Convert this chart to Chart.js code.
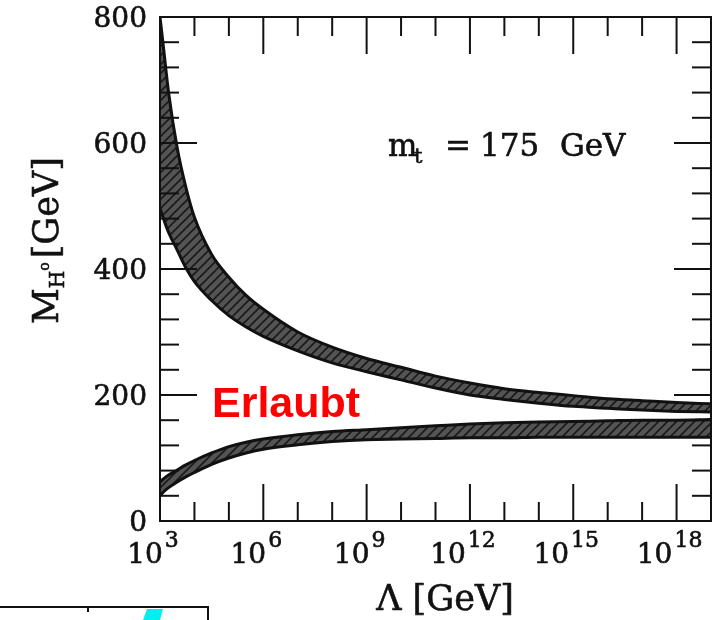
<!DOCTYPE html>
<html>
<head>
<meta charset="utf-8">
<script src="https://cdn.jsdelivr.net/npm/chart.js@4"></script>
<style>
  body { margin: 0; background: #fff; }
  canvas { display: block; }
</style>
</head>
<body>
<canvas id="grafico" width="725" height="620"></canvas>
<script>
// log10(Lambda / GeV) where the band edges were read
const lambdaExp = [3, 3.1, 3.25, 3.5, 3.75, 4, 4.5, 5, 5.5, 6, 7, 8, 9, 10, 11, 12, 13, 14, 15, 16, 17, 18, 19];

// upper band (triviality)
const obenHoch = [800, 752, 680, 592, 530, 482, 423, 387, 358, 336, 300, 276, 258, 244, 230, 219, 210, 204, 199, 194, 191, 188, 186];
const obenTief = [496, 480, 458, 430, 402, 380, 350, 326, 308, 293, 270, 251, 237, 224, 211, 200, 193, 187, 182, 179, 176, 174, 173];

// lower band (vacuum stability)
const untenHoch = [62, 67, 73, 81, 89, 96, 108, 118, 125, 130, 137, 142, 145, 148, 151, 154, 156, 157, 158, 159, 160, 160, 161];
const untenTief = [40, 46, 53, 62, 70, 77, 90, 100, 108, 114, 121, 126, 129, 130, 131, 132, 132, 133, 133, 133, 133, 133, 133];

const xTickExps = [3, 6, 9, 12, 15, 18];
const yTicks = [0, 200, 400, 600, 800];

const canvas = document.getElementById('grafico');
const ctx = canvas.getContext('2d');

function schraffur() {
  const c = document.createElement('canvas');
  c.width = 9; c.height = 9;
  const g = c.getContext('2d');
  g.fillStyle = '#545454';
  g.fillRect(0, 0, 9, 9);
  g.strokeStyle = '#1a1a1a';
  g.lineWidth = 1.6;
  g.beginPath();
  g.moveTo(-1, 10); g.lineTo(10, -1);
  g.moveTo(-1, 1); g.lineTo(1, -1);
  g.moveTo(8, 10); g.lineTo(10, 8);
  g.stroke();
  return ctx.createPattern(c, 'repeat');
}
const muster = schraffur();

function punkte(werte) {
  return lambdaExp.map((e, i) => ({ x: Math.pow(10, e), y: werte[i] }));
}

function linie(label, werte, fill) {
  return {
    label: label,
    data: punkte(werte),
    borderColor: '#111',
    borderWidth: 3,
    pointRadius: 0,
    cubicInterpolationMode: 'monotone',
    fill: fill,
    backgroundColor: muster
  };
}

const serif = 'DejaVu Serif';

// etwas kraeftigere Schrift wie im Original
function text(ctx, s, x, y) {
  ctx.fillText(s, x, y);
  ctx.strokeText(s, x, y);
}

// ------------ Rahmen, Ticks und Beschriftung ------------
const rahmen = {
  id: 'rahmen',
  afterDatasetsDraw(chart) {
    const { ctx, chartArea: a, scales: { x, y } } = chart;
    ctx.save();
    ctx.strokeStyle = '#111';
    ctx.lineWidth = 2;
    const strich = (x1, y1, x2, y2) => {
      ctx.beginPath(); ctx.moveTo(x1, y1); ctx.lineTo(x2, y2); ctx.stroke();
    };
    for (let e = 4; e < 19; e++) {
      const px = x.getPixelForValue(Math.pow(10, e));
      const len = xTickExps.includes(e) ? 37 : 19;
      strich(px, a.bottom, px, a.bottom - len);
      strich(px, a.top, px, a.top + len);
    }
    for (let v = 40; v < 800; v += 40) {
      const py = y.getPixelForValue(v);
      const len = yTicks.includes(v) ? 37 : 19;
      strich(a.left, py, a.left + len, py);
      strich(a.right, py, a.right - len, py);
    }
    ctx.strokeRect(a.left, a.top, a.right - a.left, a.bottom - a.top);
    ctx.restore();
  },
  afterDraw(chart) {
    const { ctx, chartArea: a, scales: { x, y } } = chart;
    ctx.save();
    ctx.fillStyle = '#111';
    ctx.strokeStyle = '#111';
    ctx.lineWidth = 0.6;

    // y tick labels
    ctx.font = `28px "${serif}"`;
    ctx.textAlign = 'right';
    ctx.textBaseline = 'middle';
    yTicks.forEach(v => {
      text(ctx, String(v), a.left - 13, y.getPixelForValue(v) + 3);
    });

    // x tick labels 10^n
    ctx.textAlign = 'left';
    ctx.textBaseline = 'alphabetic';
    xTickExps.forEach(e => {
      const px = x.getPixelForValue(Math.pow(10, e));
      ctx.font = `28px "${serif}"`;
      const wb = ctx.measureText('10').width;
      ctx.font = `22px "${serif}"`;
      const we = ctx.measureText(String(e)).width;
      const start = px - 7 - (wb + 2 + we) / 2;
      ctx.font = `28px "${serif}"`;
      text(ctx, '10', start, 563);
      ctx.font = `22px "${serif}"`;
      text(ctx, String(e), start + wb + 2, 547);
    });

    // x title
    ctx.font = `35px "${serif}"`;
    ctx.textAlign = 'center';
    text(ctx, '\u039B [GeV]', 445, 610);

    // y title, rotated
    ctx.save();
    ctx.translate(58, 324);
    ctx.rotate(-Math.PI / 2);
    ctx.textAlign = 'left';
    let cx = 0;
    ctx.font = `35px "${serif}"`;
    text(ctx, 'M', cx, 0);
    cx += ctx.measureText('M').width;
    ctx.font = `20px "${serif}"`;
    text(ctx, 'H', cx, 6);
    cx += ctx.measureText('H').width;
    ctx.font = `14px "${serif}"`;
    text(ctx, 'o', cx, -9);
    cx += ctx.measureText('o').width + 4;
    ctx.font = `35px "${serif}"`;
    text(ctx, '[GeV]', cx, 0);
    ctx.restore();

    // m_t = 175 GeV
    ctx.textAlign = 'left';
    ctx.font = `31px "${serif}"`;
    text(ctx, 'm', 388, 156);
    ctx.font = `21px "${serif}"`;
    text(ctx, 't', 414, 163);
    ctx.font = `31px "${serif}"`;
    text(ctx, '=', 445, 156);
    text(ctx, '175', 480, 156);
    text(ctx, 'GeV', 560, 156);

    // Erlaubt
    ctx.fillStyle = '#ff0000';
    ctx.font = 'bold 43px "Liberation Sans"';
    ctx.fillText('Erlaubt', 212, 417);

    // Rest eines zweiten Bildes unten links
    ctx.lineWidth = 2;
    ctx.beginPath();
    ctx.moveTo(0, 607); ctx.lineTo(208, 607); ctx.lineTo(208, 620);
    ctx.moveTo(88, 607); ctx.lineTo(88, 612);
    ctx.stroke();
    ctx.fillStyle = '#00f0f0';
    ctx.beginPath();
    ctx.moveTo(147, 609); ctx.lineTo(163, 609); ctx.lineTo(160, 620); ctx.lineTo(143, 620);
    ctx.fill();
    ctx.restore();
  }
};

new Chart(canvas, {
  type: 'line',
  data: {
    datasets: [
      linie('oben hoch', obenHoch, false),
      linie('oben tief', obenTief, '-1'),
      linie('unten hoch', untenHoch, false),
      linie('unten tief', untenTief, '-1')
    ]
  },
  options: {
    responsive: false,
    animation: false,
    layout: { padding: { top: 17, right: 14, left: 0, bottom: 0 } },
    plugins: { legend: { display: false }, tooltip: { enabled: false } },
    scales: {
      x: {
        type: 'logarithmic',
        min: 1e3,
        max: 1e19,
        grid: { display: false },
        border: { display: false },
        ticks: { display: false },
        afterFit: s => { s.height = 99; }
      },
      y: {
        min: 0,
        max: 800,
        grid: { display: false },
        border: { display: false },
        ticks: { display: false },
        afterFit: s => { s.width = 160; }
      }
    }
  },
  plugins: [rahmen]
});
</script>
</body>
</html>
